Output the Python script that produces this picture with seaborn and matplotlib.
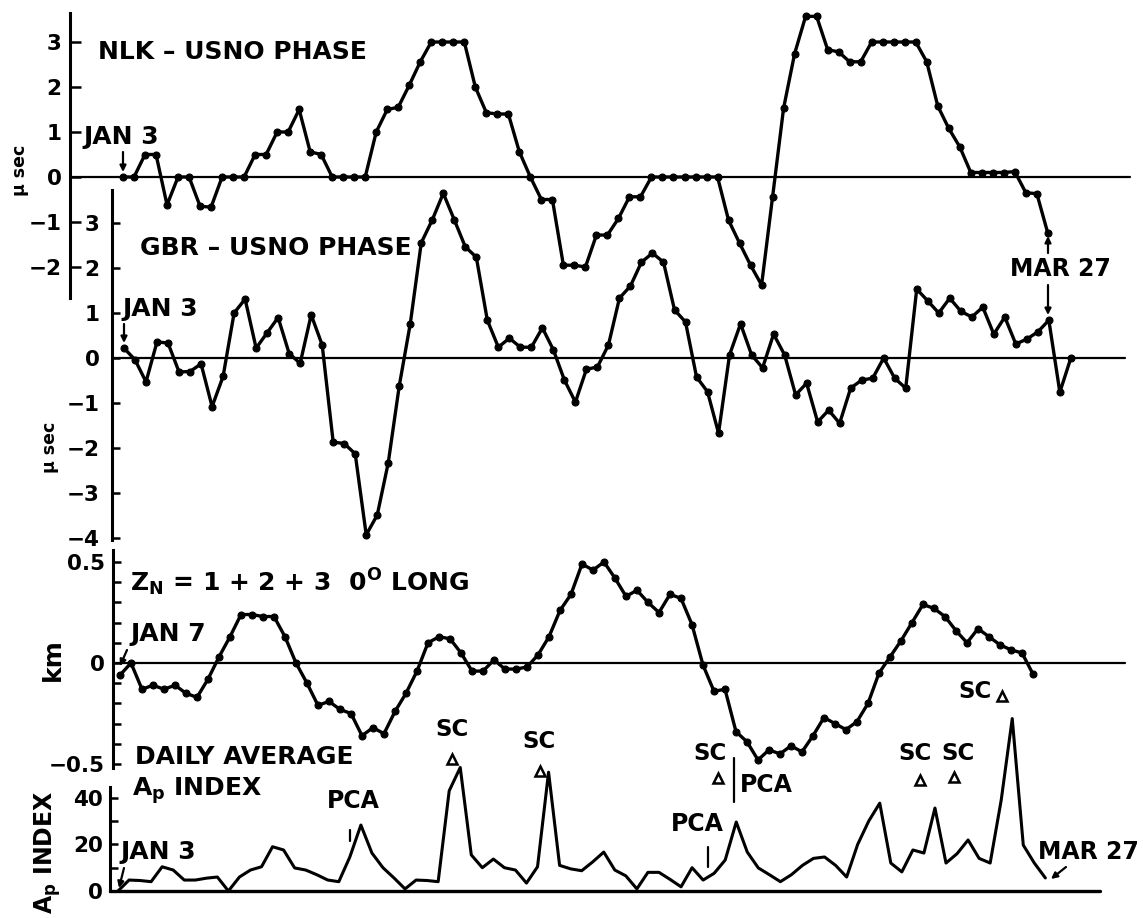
import numpy as np
import matplotlib
matplotlib.use("Agg")
import matplotlib.pyplot as plt
from matplotlib.lines import Line2D
import seaborn as sns

# ---------------- data ----------------
# NLK - USNO phase, microseconds, daily Jan 3 .. Mar 27
nlk_phase = [0, 0, 0.5, 0.5, -0.62, 0, 0, -0.65, -0.67, 0,
             0, 0, 0.5, 0.5, 1.0, 1.0, 1.5, 0.56, 0.5, 0,
             0, 0, 0, 1.0, 1.5, 1.55, 2.04, 2.56, 3.0, 3.0,
             3.0, 3.0, 2.0, 1.43, 1.4, 1.4, 0.56, 0, -0.5, -0.5,
             -1.96, -1.96, -2.0, -1.29, -1.29, -0.92, -0.44, -0.44, 0, 0,
             0, 0, 0, 0, 0, -0.96, -1.47, -1.96, -2.4, -0.44,
             1.53, 2.74, 3.57, 3.57, 2.83, 2.78, 2.56, 2.56, 3.0, 3.0,
             3.0, 3.0, 3.0, 2.56, 1.58, 1.08, 0.67, 0.1, 0.1, 0.1,
             0.1, 0.12, -0.35, -0.37, -1.25]
# GBR - USNO phase, microseconds, daily Jan 3 .. Mar 29
gbr_phase = [0.22, -0.04, -0.53, 0.36, 0.33, -0.31, -0.3, -0.13, -1.08, -0.41,
             1.0, 1.31, 0.22, 0.56, 0.9, 0.1, -0.12, 0.96, 0.29, -1.87,
             -1.9, -2.13, -3.93, -3.49, -2.33, -0.62, 0.76, 2.56, 3.07, 3.66,
             3.07, 2.47, 2.24, 0.84, 0.24, 0.44, 0.24, 0.24, 0.67, 0.18,
             -0.49, -0.98, -0.25, -0.2, 0.29, 1.33, 1.6, 2.13, 2.33, 2.13,
             1.07, 0.8, -0.42, -0.75, -1.67, 0.07, 0.76, 0.07, -0.22, 0.53,
             0.07, -0.82, -0.56, -1.42, -1.16, -1.45, -0.67, -0.49, -0.45, 0.0,
             -0.45, -0.67, 1.53, 1.27, 1.0, 1.33, 1.04, 0.91, 1.13, 0.53,
             0.91, 0.31, 0.42, 0.58, 0.84, -0.76, 0.0]
# Z_N = 1+2+3, 0 deg long, km, daily from Jan 7
zn_km = [-0.06, 0.0, -0.13, -0.11, -0.13, -0.11, -0.15, -0.17, -0.08, 0.03,
         0.13, 0.24, 0.24, 0.23, 0.23, 0.13, 0.0, -0.1, -0.21, -0.19,
         -0.23, -0.25, -0.36, -0.32, -0.35, -0.24, -0.15, -0.04, 0.1, 0.13,
         0.12, 0.05, -0.04, -0.04, 0.015, -0.03, -0.03, -0.02, 0.04, 0.13,
         0.26, 0.34, 0.49, 0.46, 0.5, 0.42, 0.33, 0.36, 0.3, 0.25,
         0.34, 0.32, 0.19, -0.01, -0.14, -0.13, -0.34, -0.39, -0.48, -0.43,
         -0.45, -0.41, -0.44, -0.36, -0.27, -0.3, -0.33, -0.29, -0.2, -0.05,
         0.03, 0.11, 0.2, 0.29, 0.27, 0.23, 0.16, 0.1, 0.17, 0.13,
         0.09, 0.065, 0.05, -0.055]
# Daily average Ap index, Jan 3 .. Mar 27
ap_index = [0, 4.7, 4.5, 4, 10.4, 9, 4.7, 4.7, 5.5, 6,
            0, 6, 9, 10.4, 19, 17.6, 9.9, 9, 7, 4.7,
            4, 14.6, 28.3, 16.3, 10, 5.6, 0.9, 4.7, 4.5, 4,
            43, 53, 15.5, 10, 13.7, 10, 9, 3.4, 10.4, 51,
            11, 9.5, 8.7, 12.5, 16.7, 9, 6.5, 0.9, 8, 8,
            5, 1.8, 10, 4.7, 7.6, 13.3, 29.6, 16.7, 9.9, 7,
            4, 7, 11, 14, 14.6, 11, 6, 20, 30, 37.7,
            12, 8.2, 17.6, 16.3, 35.6, 12, 16, 21.9, 14, 12,
            39, 74, 19.7, 12, 5.6]

nlk_ticks = [3, 2, 1, 0, -1, -2]
nlk_ticklabels = ["3", "2", "1", "0", "\u22121", "\u22122"]
gbr_ticks = [3, 2, 1, 0, -1, -2, -3, -4]
gbr_ticklabels = ["3", "2", "1", "0", "\u22121", "\u22122", "\u22123", "\u22124"]
zn_ticks = [0.5, 0, -0.5]
zn_ticklabels = ["0.5", "0", "\u22120.5"]
zn_minor = [0.4, 0.3, 0.2, 0.1, -0.1, -0.2, -0.3, -0.4]
ap_ticks = [0, 20, 40]
ap_ticklabels = ["0", "20", "40"]
ap_minor = [10, 30]

# ---------------- style ----------------
sns.set_theme(style="white")
plt.rcParams["font.family"] = ["DejaVu Sans"]
plt.rcParams["font.weight"] = "bold"
plt.rcParams["mathtext.fontset"] = "dejavusans"
plt.rcParams["mathtext.default"] = "bf"

W, H = 1143, 918
fig = plt.figure(figsize=(W / 100, H / 100), dpi=100)
fig.patch.set_facecolor("white")


def make_panel(ytop, ybot):
    ax = fig.add_axes([0, 1 - ybot / H, 1, (ybot - ytop) / H])
    ax.patch.set_alpha(0)
    return ax


def finish_panel(ax, ytop, ybot, x0, dx, y0, sy, spine_x, lo, hi,
                 ticks, labels, minor=None, tlen=7, pad=6):
    ax.set_xlim(-x0 / dx, (W - x0) / dx)
    ax.set_ylim((y0 - ybot) / sy, (y0 - ytop) / sy)
    for s in ("top", "right", "bottom"):
        ax.spines[s].set_visible(False)
    sp = ax.spines["left"]
    sp.set_visible(True)
    sp.set_position(("axes", spine_x / W))
    sp.set_bounds(lo, hi)
    sp.set_linewidth(2.2)
    sp.set_color("black")
    ax.set_xticks([])
    ax.set_yticks(ticks)
    ax.set_yticklabels(labels)
    if minor is not None:
        ax.set_yticks(minor, minor=True)
    ax.tick_params(axis="y", which="both", left=True, direction="in",
                   length=tlen, width=1.8, pad=pad, labelsize=15.5,
                   color="black", labelcolor="black")
    ax.set_xlabel("")
    ax.set_ylabel("")
    ax.grid(False)


line_kw = dict(color="black", linewidth=2.4, marker="o", markersize=5,
               markeredgecolor="black", markeredgewidth=0.8, errorbar=None)

# NLK panel
ax1 = make_panel(0, 305)
sns.lineplot(x=np.arange(len(nlk_phase)), y=nlk_phase, ax=ax1, **line_kw)
ax1.axhline(0, xmin=70 / W, xmax=1130 / W, color="black", lw=1.6, zorder=1)
finish_panel(ax1, 0, 305, 123, 11.01, 177, 45, 70, -2.69, 3.64,
             nlk_ticks, nlk_ticklabels, tlen=8, pad=6)

# GBR panel
ax2 = make_panel(180, 548)
sns.lineplot(x=np.arange(len(gbr_phase)), y=gbr_phase, ax=ax2, **line_kw)
ax2.axhline(0, xmin=112 / W, xmax=1125 / W, color="black", lw=1.6, zorder=1)
finish_panel(ax2, 180, 548, 124, 11.01, 358, 45, 112, -4.04, 3.73,
             gbr_ticks, gbr_ticklabels, tlen=6, pad=9)

# Zn panel
ax3 = make_panel(545, 780)
sns.lineplot(x=np.arange(len(zn_km)), y=zn_km, ax=ax3, **line_kw)
ax3.axhline(0, xmin=113 / W, xmax=1125 / W, color="black", lw=1.6, zorder=1)
finish_panel(ax3, 545, 780, 120, 11.0, 663, 202, 113, -0.52, 0.56,
             zn_ticks, zn_ticklabels, minor=zn_minor, tlen=6, pad=6)

# Ap panel
ax4 = make_panel(700, 918)
sns.lineplot(x=np.arange(len(ap_index)), y=ap_index, ax=ax4, color="black",
             linewidth=2.2, errorbar=None)
ax4.axhline(0, xmin=110 / W, xmax=1100 / W, color="black", lw=2.4, zorder=1)
finish_panel(ax4, 700, 918, 118, 11.04, 891, 2.33, 110, 0, 44.6,
             ap_ticks, ap_ticklabels, minor=ap_minor, tlen=6, pad=5)


# ---------------- annotations ----------------
def label(x, y, s, size=18, ha="left", rot=0):
    fig.text(x / W, 1 - y / H, s, fontsize=size, fontweight="bold",
             ha=ha, va="center", rotation=rot, color="black")


def arrow(x1, y1, x2, y2):
    ax4.annotate("", xy=(x2, H - y2), xytext=(x1, H - y1),
                 xycoords="figure pixels", textcoords="figure pixels",
                 arrowprops=dict(arrowstyle="-|>", color="black", lw=1.6,
                                 mutation_scale=9, shrinkA=0, shrinkB=0))


def vline(x, y1, y2, lw=1.6):
    fig.add_artist(Line2D([x / W, x / W], [1 - y1 / H, 1 - y2 / H],
                          transform=fig.transFigure, color="black", lw=lw))


def tri(x, y):
    fig.add_artist(Line2D([x / W], [1 - y / H], transform=fig.transFigure,
                          marker="^", markersize=7, markerfacecolor="white",
                          markeredgecolor="black", markeredgewidth=1.8,
                          linestyle="none"))


label(98, 52, "NLK \u2013 USNO PHASE")
label(83, 137, "JAN 3")
arrow(123, 152, 123, 172)
label(20, 170, "\u03bc sec", size=12.5, ha="center", rot=90)

label(140, 248, "GBR \u2013 USNO PHASE")
label(122, 309, "JAN 3")
arrow(124, 324, 124, 343)
label(50, 447, "\u03bc sec", size=12.5, ha="center", rot=90)

label(1010, 269, "MAR 27", size=17)
arrow(1048, 253, 1048, 236)
arrow(1048, 285, 1048, 315)

label(130, 582, "$Z_N$ = 1 + 2 + 3  $0^O$ LONG")
label(130, 634, "JAN 7")
arrow(127, 650, 120, 666)
label(53, 660, "km", size=18, ha="center", rot=90)

label(135, 757, "DAILY AVERAGE")
label(132, 791, "$A_p$ INDEX")
label(48, 852, "$A_p$ INDEX", size=17, ha="center", rot=90)
label(120, 852, "JAN 3")
arrow(124, 868, 119, 888)

label(353, 801, "PCA", size=17, ha="center")
vline(350, 830, 841)
label(452, 730, "SC", size=16.5, ha="center")
tri(452, 759)
label(539, 742, "SC", size=16.5, ha="center")
tri(540, 771)
label(710, 753, "SC", size=16.5, ha="center")
tri(718, 778)
vline(734, 758, 802)
label(740, 785, "PCA", size=17)
label(697, 824, "PCA", size=17, ha="center")
vline(708, 847, 867)
label(915, 753, "SC", size=16.5, ha="center")
tri(920, 780)
label(958, 753, "SC", size=16.5, ha="center")
tri(954, 777)
label(975, 692, "SC", size=16.5, ha="center")
tri(1002, 696)
label(1038, 852, "MAR 27", size=17)
arrow(1066, 867, 1051, 879)

fig.savefig("out.png", dpi=100)
